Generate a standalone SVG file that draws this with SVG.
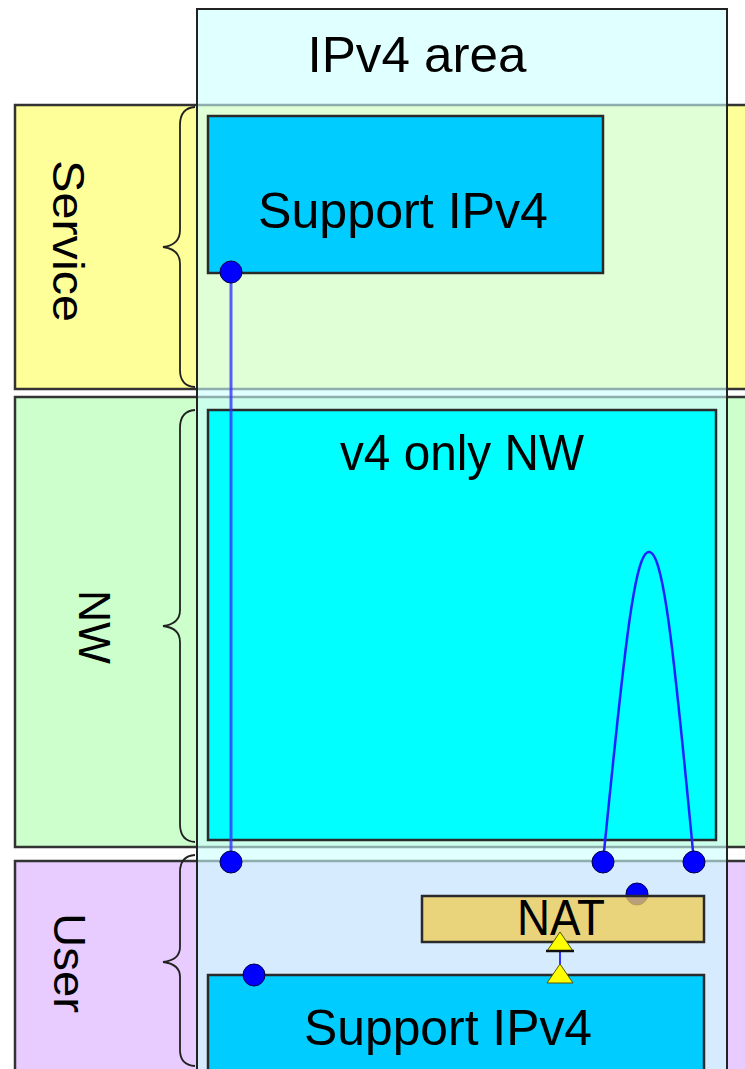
<svg xmlns="http://www.w3.org/2000/svg" width="745" height="1069" viewBox="0 0 745 1069">
  <style>
    .row { stroke: #333333; stroke-width: 2.5; }
    .box { stroke: #2a2a2a; stroke-width: 2.5; }
    .lbl { font-family: "Liberation Sans", Arial, sans-serif; font-size: 50px; fill: #000000; }
    .side { font-size: 45px; }
    .brace { fill: none; stroke: #222222; stroke-width: 1.8; }
    .wire { fill: none; stroke: #2222ff; stroke-width: 2.5; }
    .dot { fill: #0000ff; stroke: #000044; stroke-width: 1; }
    .tri { fill: #ffff00; stroke: #555500; stroke-width: 1; }
  </style>
  <rect width="745" height="1069" fill="#ffffff"/>

  <!-- layer rows -->
  <g id="row-service">
    <rect class="row" x="15" y="105" width="740" height="284" fill="#ffff99"/>
    <text class="lbl side" transform="translate(53,241) rotate(90)" text-anchor="middle" textLength="162" lengthAdjust="spacingAndGlyphs">Service</text>
  </g>
  <g id="row-nw">
    <rect class="row" x="15" y="397" width="740" height="450" fill="#ccffcc"/>
    <text class="lbl side" transform="translate(79,627) rotate(90)" text-anchor="middle" textLength="74" lengthAdjust="spacingAndGlyphs">NW</text>
  </g>
  <g id="row-user">
    <rect class="row" x="15" y="861" width="740" height="220" fill="#e8ccff"/>
    <text class="lbl side" transform="translate(54,963) rotate(90)" text-anchor="middle" textLength="100" lengthAdjust="spacingAndGlyphs">User</text>
  </g>

  <!-- translucent IPv4 column over the rows -->
  <g id="ipv4-area">
    <rect x="197" y="9" width="530" height="1080" fill="#ccffff" fill-opacity="0.6" stroke="#222222" stroke-width="2"/>
    <text class="lbl" x="417" y="72" text-anchor="middle" textLength="219" lengthAdjust="spacingAndGlyphs">IPv4 area</text>
  </g>

  <!-- braces -->
  <g id="braces">
    <path class="brace" d="M195,107 Q180,108 180,125 L180,230 Q180,245 163,247 Q180,249 180,264 L180,370 Q180,386 195,387"/>
    <path class="brace" d="M195,410 Q180,411 180,428 L180,610 Q180,624 163,626 Q180,628 180,642 L180,824 Q180,841 195,842"/>
    <path class="brace" d="M195,855 Q180,856 180,872 L180,947 Q180,960 163,962 Q180,964 180,977 L180,1050 Q180,1065 195,1066"/>
  </g>

  <!-- nodes -->
  <g id="service-support-ipv4">
    <rect class="box" x="208" y="116" width="395" height="157" fill="#00ccff"/>
    <text class="lbl" x="403" y="228" text-anchor="middle" textLength="290" lengthAdjust="spacingAndGlyphs">Support IPv4</text>
  </g>
  <g id="v4-only-nw">
    <rect class="box" x="208" y="410" width="508" height="430" fill="#00ffff"/>
    <text class="lbl" x="462" y="470" text-anchor="middle" textLength="244" lengthAdjust="spacingAndGlyphs">v4 only NW</text>
  </g>
  <g id="user-support-ipv4">
    <rect class="box" x="208" y="975" width="496" height="110" fill="#00ccff"/>
    <text class="lbl" x="448" y="1045" text-anchor="middle" textLength="288" lengthAdjust="spacingAndGlyphs">Support IPv4</text>
  </g>

  <!-- connectors -->
  <g id="connectors">
    <line x1="231" y1="272" x2="231" y2="862" stroke="#3333ff" stroke-opacity="0.8" stroke-width="3"/>
    <path class="wire" d="M603,862 C625,640 635,552 649,552 C663,552 673,640 694,862"/>
    <line x1="560" y1="951" x2="560" y2="966" stroke="#3333ff" stroke-width="2"/>
    <circle class="dot" cx="231" cy="272" r="11"/>
    <circle class="dot" cx="231" cy="862" r="11"/>
    <circle class="dot" cx="603" cy="862" r="11"/>
    <circle class="dot" cx="694" cy="862" r="11"/>
    <circle class="dot" cx="254" cy="975" r="11"/>
    <circle class="dot" cx="637" cy="894" r="11"/>
  </g>

  <g id="nat">
    <rect class="box" x="422" y="896" width="282" height="46" fill="#eecc56" fill-opacity="0.78"/>
    <text class="lbl" x="561" y="935" text-anchor="middle" textLength="88" lengthAdjust="spacingAndGlyphs">NAT</text>
  </g>

  <!-- link end markers -->
  <g id="markers">
    <polygon class="tri" points="560,932 573,951 547,951"/>
    <line x1="546" y1="951" x2="574" y2="951" stroke="#111111" stroke-width="2.5"/>
    <polygon class="tri" points="560,964 573,983 547,983"/>
  </g>
</svg>
